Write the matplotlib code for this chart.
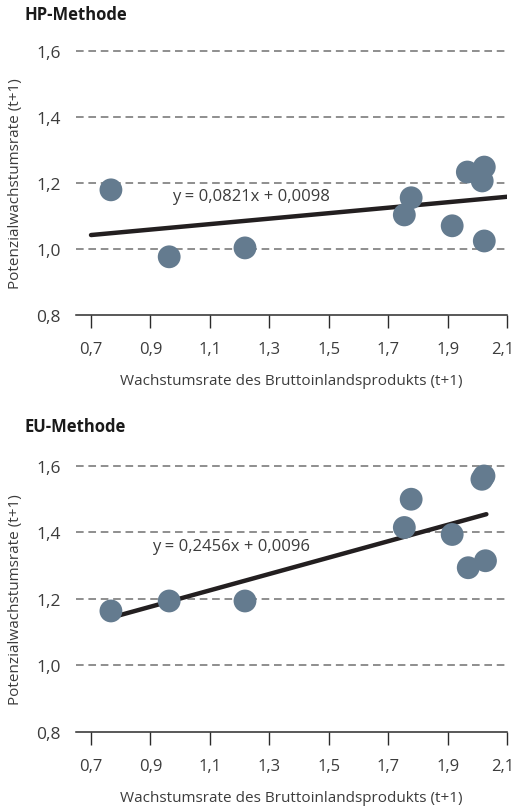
import matplotlib
matplotlib.use("Agg")
import matplotlib.pyplot as plt
from matplotlib.transforms import ScaledTranslation

plt.rcParams["font.family"] = ["Open Sans", "DejaVu Sans"]

# ---------------------------
# DATA
# ---------------------------
hp_x = [0.767, 0.963, 1.218, 1.754, 1.777, 1.915, 1.966, 2.023, 2.016, 2.023]
hp_y = [1.179, 0.976, 1.003, 1.103, 1.155, 1.070, 1.233, 1.248, 1.206, 1.024]
hp_trend_x = [0.70, 2.10]
hp_trend_y = [1.042, 1.158]
hp_eq = "y = 0,0821x + 0,0098"

eu_x = [0.767, 0.963, 1.218, 1.754, 1.777, 1.915, 1.969, 2.027, 2.015, 2.022]
eu_y = [1.164, 1.194, 1.194, 1.415, 1.500, 1.394, 1.294, 1.315, 1.560, 1.570]
eu_trend_x = [0.767, 2.030]
eu_trend_y = [1.144, 1.455]
eu_eq = "y = 0,2456x + 0,0096"

x_ticks = [0.7, 0.9, 1.1, 1.3, 1.5, 1.7, 1.9, 2.1]
y_ticks = [0.8, 1.0, 1.2, 1.4, 1.6]

DOT = "#647b8f"
LINE = "#231f20"
TXT = "#3c3c3c"

fig = plt.figure(figsize=(5.17, 8.12), dpi=100)


def panel(rect, xs, ys, tx, ty, eq, eq_pos, title, title_y):
    ax = fig.add_axes(rect)
    ax.set_xlim(0.6495, 2.1)
    ax.set_ylim(0.8, 1.6)

    # dashed grid lines
    for yv in y_ticks[1:]:
        ax.axhline(yv, color="#707070", lw=1.1, dashes=(5.0, 3.1), zorder=1, clip_on=False)

    for s in ["top", "right", "left"]:
        ax.spines[s].set_visible(False)
    ax.spines["bottom"].set_color("#2b2b2b")
    ax.spines["bottom"].set_linewidth(1.1)

    ax.plot(tx, ty, color=LINE, lw=3.2, solid_capstyle="round", zorder=2)
    ax.scatter(xs, ys, s=270, color=DOT, edgecolors="none", zorder=3, clip_on=False)

    ax.text(eq_pos[0], eq_pos[1], eq, fontsize=12, color=TXT, ha="left", va="center", zorder=4)

    ax.set_xticks(x_ticks)
    ax.set_xticklabels([f"{v:.1f}".replace(".", ",") for v in x_ticks])
    ax.set_yticks(y_ticks)
    ax.set_yticklabels([f"{v:.1f}".replace(".", ",") for v in y_ticks])
    ax.tick_params(axis="x", length=9.5, width=1.0, color="#2b2b2b", pad=9,
                   labelsize=12, labelcolor=TXT)
    ax.tick_params(axis="y", length=0, pad=11, labelsize=12.5, labelcolor=TXT)

    # keep the last x label inside the figure edge
    last = ax.get_xticklabels()[-1]
    last.set_transform(last.get_transform() + ScaledTranslation(-4 / 100, 0, fig.dpi_scale_trans))

    ax.set_xlabel("Wachstumsrate des Bruttoinlandsprodukts (t+1)", fontsize=11,
                  color=TXT, labelpad=12)
    ax.set_ylabel("Potenzialwachstumsrate (t+1)", fontsize=11, color=TXT)
    ax.yaxis.set_label_coords(-0.122, 0.5)

    fig.text(24 / 517, title_y, title, fontsize=12, fontweight="bold",
             color="#1a1a1a", ha="left", va="center")
    return ax


panel([0.147, 0.611, 0.834, 0.325], hp_x, hp_y, hp_trend_x, hp_trend_y,
      hp_eq, (0.973, 1.16), "HP-Methode", 1 - 15 / 812)
panel([0.147, 0.0973, 0.834, 0.3276], eu_x, eu_y, eu_trend_x, eu_trend_y,
      eu_eq, (0.905, 1.358), "EU-Methode", 1 - 427 / 812)

fig.savefig("out.png", dpi=100)
